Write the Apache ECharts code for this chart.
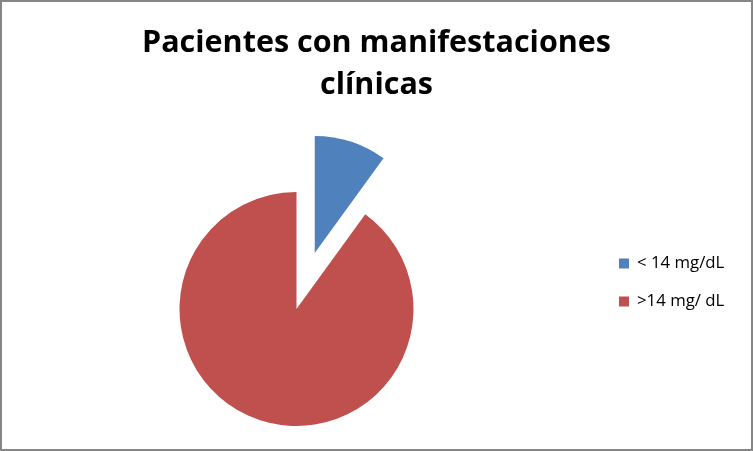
<!DOCTYPE html>
<html><head><meta charset="utf-8">
<script src="https://cdn.jsdelivr.net/npm/echarts@6/dist/echarts.min.js"></script>
<style>html,body{margin:0;padding:0;background:#fff}#c{width:753px;height:451px}</style>
</head><body><div id="c"></div>
<script>
const categories = ['< 14 mg/dL', '>14 mg/ dL'];
const values = [10, 90];
const colors = ['#4F81BD', '#C0504D'];
const titleText = 'Pacientes con manifestaciones\nclínicas';

const chart = echarts.init(document.getElementById('c'), null, {renderer: 'canvas'});
chart.setOption({
  animation: false,
  backgroundColor: '#fff',
  graphic: [{
    type: 'rect', shape: {x: 1, y: 1, width: 751, height: 449},
    style: {fill: 'none', stroke: '#868686', lineWidth: 2}, silent: true
  }],
  title: {
    text: titleText, left: 'center', top: 17,
    textStyle: {fontFamily: 'Open Sans', fontWeight: 'bold', fontSize: 30.5, lineHeight: 42, color: '#000'}
  },
  legend: {
    orient: 'vertical', left: 614, top: 250,
    itemWidth: 10, itemHeight: 10, itemGap: 21, icon: 'rect',
    selectedMode: false,
    textStyle: {fontFamily: 'Open Sans', fontSize: 16.8, lineHeight: 16, color: '#000', padding: [0,0,0,3]},
    data: categories
  },
  series: [{
    type: 'pie',
    center: [296.5, 309], radius: 117,
    startAngle: 90, clockwise: true,
    selectedMode: 'single', selectedOffset: 59,
    label: {show: false}, labelLine: {show: false},
    emphasis: {disabled: true},
    silent: true,
    data: categories.map((n, i) => ({name: n, value: values[i], selected: i === 0, itemStyle: {color: colors[i]}}))
  }]
});
</script></body></html>
